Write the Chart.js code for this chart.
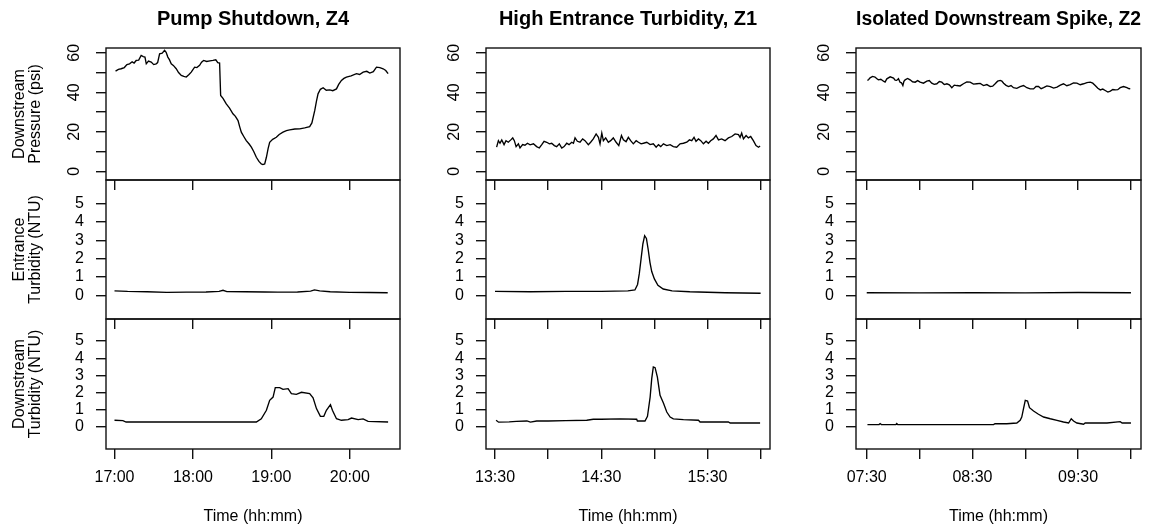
<!DOCTYPE html>
<html><head><meta charset="utf-8">
<script src="https://cdn.jsdelivr.net/npm/chart.js@4.4.1/dist/chart.umd.min.js"></script>
<style>
html,body{margin:0;padding:0;background:#fff;}
#wrap{position:relative;width:1154px;height:531px;overflow:hidden;background:#fff;}
#wrap canvas{position:absolute;}
</style></head><body><div id="wrap"></div>
<script>
// ---------- text ----------
const panelTitles = ['Pump Shutdown, Z4', 'High Entrance Turbidity, Z1', 'Isolated Downstream Spike, Z2'];
const rowTitles = [['Downstream', 'Pressure (psi)'], ['Entrance', 'Turbidity (NTU)'], ['Downstream', 'Turbidity (NTU)']];
const xAxisTitle = 'Time (hh:mm)';

// ---------- tick values ----------
const pressureTicks = [0, 10, 20, 30, 40, 50, 60];
const pressureTickLabels = [0, 20, 40, 60];
const turbTicks = [0, 1, 2, 3, 4, 5];
const z4TimeTicks = [1020, 1080, 1140, 1200];           // 17:00 .. 20:00
const z4TimeLabels = [1020, 1080, 1140, 1200];
const z1TimeTicks = [810, 840, 870, 900, 930, 960];     // 13:30 .. 16:00
const z1TimeLabels = [810, 870, 930];
const z2TimeTicks = [450, 480, 510, 540, 570, 600];     // 07:30 .. 10:00
const z2TimeLabels = [450, 510, 570];

// ---------- series (time = minutes after series start) ----------
const z4Start = 1020;
const z4PressT = [0.8,3,5.1,7.5,9.5,11.5,13.5,15,16.6,18.5,20.4,22,23.3,24.3,26,28.1,30,31.9,33,34.5,36.5,38.3,39.5,40.8,42,43.4,45,47.2,49,51.1,53,54.9,57,58.7,60,61.3,63,65.1,66.6,68.2,70.5,73,75.3,77.5,79,80.4,81.2,83,85.5,88,90.6,92.5,94.5,95.8,97,99,100.8,103,104.7,106.5,108.5,110.5,112.3,113.5,114.9,116.2,117.5,118.7,121,123.8,126,128.9,131.5,134,138,141.7,145.5,149.3,151,153.2,154.5,155.7,157.5,159.6,162,164.7,167,169.8,171.5,173.6,175.5,177.4,181,185.1,187.5,190.2,193,195.3,198,200.4,203,205.5,207.5,209.3];
const z4PressV = [50.7,51.6,51.9,52.5,54.0,54.4,55.4,54.8,56.1,56.3,58.6,58.0,57.8,54.4,55.8,55.3,54.0,54.4,55.0,59.5,59.8,61.2,60.2,57.8,56.5,54.4,53.6,51.9,50.0,48.5,48.0,47.7,49.0,50.2,51.5,52.7,52.5,53.6,55.2,56.1,55.6,55.9,56.1,56.4,55.0,54.8,38.4,36.9,34.1,32.0,29.1,27.8,25.7,22.5,19.8,17.5,15.5,13.8,12.2,10.0,7.1,5.0,3.7,3.4,3.7,7.1,11.5,14.7,16.2,17.2,18.6,19.8,20.6,21,21.4,21.5,22.0,22.6,24.5,30.8,35.5,39.2,41.5,42.3,41.0,41.2,40.8,41.7,44.0,46,47.0,47.7,48.3,49.4,49.0,50.2,50.6,49.7,50.4,52.7,52.5,51.9,51.0,49.4];
const z4EntT = [0,10,25,40,55,70,80,83,86,100,115,125,140,150,153,157,165,180,195,209];
const z4EntV = [0.25,0.22,0.2,0.17,0.18,0.19,0.22,0.28,0.21,0.2,0.19,0.18,0.19,0.24,0.3,0.25,0.2,0.17,0.16,0.15];
const z4DownT = [0,6.4,8.9,16.6,108.5,112.3,116.2,118.7,121.3,123,126.4,128.9,132.8,135.3,139.1,143,149.3,151.9,154.5,157.5,160.1,162.1,165.2,166.7,169.8,173.6,178.7,181.3,186.4,190.2,194,209.3];
const z4DownV = [0.39,0.37,0.29,0.29,0.29,0.48,0.97,1.55,1.74,2.29,2.29,2.19,2.23,1.94,1.9,2.02,1.94,1.7,1.07,0.62,0.62,0.97,1.3,0.97,0.48,0.39,0.43,0.52,0.43,0.47,0.33,0.29];

const z1Start = 810;
const z1PressT = [0.9,1.9,2.8,3.8,5.1,6.2,7.5,8.9,10,10.9,11.9,13.2,14.1,15.6,16.9,18.3,19.8,21.7,23.5,25,26.4,27.7,29.2,30.7,32,33.5,34.8,36.3,37.7,39,40.5,41.8,43.3,44.3,45.2,46.5,48,49.5,50.8,52.7,54,55.5,57.1,58.4,59.3,60.3,61.2,62.5,64,65.3,66.8,68.4,69.9,71.4,72.5,74,75.3,76.6,78.1,79.7,81,82.5,83.8,85.7,87.6,89.4,91,92.3,93.6,95.1,97,98.9,100.7,102.6,104.5,106.4,108.3,109.8,111.1,112.4,113.5,114.9,116.2,117.7,119.2,120.5,121.8,123.3,124.8,126.2,128,129.9,131.8,133.7,135.6,137.5,138.4,139.3,140.3,141.8,143.1,144.4,145.9,147.4,148.8,149.7];
const z1PressV = [12.2,15.5,14.2,15.9,13.5,15.5,14.7,15.9,16.9,15.5,12.5,13.9,11.8,13.5,13.2,14.2,13.4,13.9,12.5,11.8,13.5,15.2,14.7,13.9,14.2,13,12.5,13.9,11.8,12.5,14.2,13.5,14.7,14.2,16.9,15.2,14.7,16.4,15.5,13.5,14.7,16.4,18.9,17.2,13.9,19.3,15.5,16.9,14.7,15.5,16.9,14.7,13,18.1,15.9,15,17.2,15.5,13.9,15.5,14.7,13.9,14.2,14.7,13.5,13.9,12.2,13.5,12.5,13.9,13,13.5,12.5,12.2,13.9,14.2,14.7,15.9,15.5,17.2,15.2,16.4,15.5,13.9,15.2,14.2,15.5,16.4,18.1,15.9,16.4,15.5,16.9,17.6,18.9,18.6,17.2,19.3,16.4,18.1,16.9,17.6,15.5,13,12.2,12.8];
const z1EntT = [0,20,40,60,75,79,80.5,81.5,82.5,83.5,84.5,85.5,86.5,87.5,88.5,90,92,95,100,110,130,150];
const z1EntV = [0.22,0.2,0.22,0.22,0.25,0.3,0.6,1.2,2.0,2.8,3.25,3.1,2.5,1.8,1.3,0.9,0.55,0.35,0.25,0.2,0.15,0.12];
const z1DownT = [0.6,2,8,12,18,20,23.5,30,40,51.8,55.5,60,70.6,80,80.4,84.7,86.1,87.6,88.5,89.4,90.4,91.7,93.2,95.1,97,98.9,100.7,106.4,114.9,115.8,131.8,132.8,149.7];
const z1DownV = [0.39,0.28,0.3,0.33,0.35,0.28,0.35,0.35,0.37,0.39,0.45,0.45,0.47,0.45,0.35,0.35,0.62,1.74,2.81,3.49,3.45,2.9,1.84,1.4,0.87,0.58,0.47,0.43,0.39,0.29,0.29,0.23,0.23];

const z2Start = 450;
const z2PressT = [0.4,1.1,1.9,3.3,4.7,5.6,6.6,8,9.5,10.4,11.4,13.3,15.2,16.1,17,18,18.9,19.7,20.5,21.1,21.8,23.2,24.6,26,27.5,28.9,30.3,32.2,34.1,35.5,36.9,38.3,39.8,41.2,42.6,44,45.5,46.9,48.3,49.7,51.1,53,54.9,56.8,58.7,60.6,62.5,64.4,66.3,68.2,70.1,71.5,72.9,74.3,75.8,76.7,77.7,79.1,80.5,81.9,83.3,85.2,87.1,89,90.9,92.8,94.7,96.1,97.5,99,100.4,102.3,104.2,106.1,108,109.9,111.7,113.6,115.5,117.4,119.3,121.2,123.1,125,126.9,128.3,129.7,131.2,132.6,134,135.4,136.9,138.3,139.7,141.1,142.5,143.9,145.8,147.7,148.7,149.6];
const z2PressV = [46,46.5,47.3,48.0,47.7,47.0,46.3,46.6,45.6,45.2,46.8,47.8,47.2,46.1,46,46.9,45.1,44.8,43.4,45.5,46.3,47,46.3,45.3,45.1,45.9,45.1,44.6,45.6,45.9,44.6,44.0,44.3,45.4,45.1,43.9,44.3,43.8,42.3,43.6,43.4,43.2,44.3,45.2,45.1,44.1,44.3,44.5,43.4,43.9,42.9,43.1,44.3,45.6,46,45.7,44.6,43.5,42.9,43.4,42.3,42.0,42.9,43.4,42.3,41.7,41.7,42.9,42.9,41.8,42.3,43.2,42.9,42.1,42.6,43.6,44.3,43.3,43.9,44.7,44.6,43.8,44.3,44.9,45.1,44.6,43.4,42.0,41.2,41.6,40.9,40.1,40.6,41.4,41.2,41.3,42.3,42.9,42.3,41.9,41.7];
const z2EntT = [0,30,60,90,120,150];
const z2EntV = [0.15,0.14,0.15,0.14,0.16,0.15];
const z2DownT = [0.4,7,7.6,8.3,16.5,17,17.6,72,72.8,79.5,85.2,87.1,88,89,90,91.3,92.4,94.7,97.5,100.4,104.2,108,111.7,114.6,116.1,117.4,119.3,123.1,124,136.4,143.9,145,150];
const z2DownV = [0.14,0.14,0.2,0.14,0.14,0.2,0.14,0.14,0.19,0.19,0.23,0.39,0.58,1.07,1.55,1.51,1.12,0.93,0.74,0.58,0.48,0.39,0.29,0.23,0.48,0.35,0.23,0.16,0.23,0.23,0.31,0.23,0.23];

// ---------- layout (pixels) ----------
const colBox = [[106, 400], [486, 770], [856, 1141]];
const rowBox = [[48, 180], [180, 319], [319, 449]];
const colXRange = [[1013.5, 1238.4], [804.9, 965.3], [443.9, 605.7]];
const rowYRange = [[-4.4, 62.4], [-1.28, 6.28], [-1.28, 6.28]];

const columns = [
  {start: z4Start, ticks: z4TimeTicks, labels: z4TimeLabels, series: [[z4PressT, z4PressV], [z4EntT, z4EntV], [z4DownT, z4DownV]]},
  {start: z1Start, ticks: z1TimeTicks, labels: z1TimeLabels, series: [[z1PressT, z1PressV], [z1EntT, z1EntV], [z1DownT, z1DownV]]},
  {start: z2Start, ticks: z2TimeTicks, labels: z2TimeLabels, series: [[z2PressT, z2PressV], [z2EntT, z2EntV], [z2DownT, z2DownV]]}
];

Chart.defaults.font.family = "'Liberation Sans', Arial, sans-serif";
Chart.defaults.color = '#000';

function hhmm(m) {
  const h = Math.floor(m / 60), mm = Math.round(m - h * 60);
  return String(h).padStart(2, '0') + ':' + String(mm).padStart(2, '0');
}

const boxPlugin = {
  id: 'boxFrame',
  afterDatasetsDraw(chart) {
    const a = chart.chartArea, ctx = chart.ctx;
    ctx.save();
    ctx.strokeStyle = '#111';
    ctx.lineWidth = 1.4;
    ctx.strokeRect(a.left, a.top, a.right - a.left, a.bottom - a.top);
    ctx.restore();
  }
};

const wrap = document.getElementById('wrap');
const TOTAL_H = 531;

for (let c = 0; c < 3; c++) {
  for (let r = 0; r < 3; r++) {
    const col = columns[c];
    const yAxisW = c === 0 ? 106 : 70;
    const padRight = 4;
    const padTop = r === 0 ? 0 : 3;
    const boxW = colBox[c][1] - colBox[c][0];
    const left = colBox[c][0] - yAxisW;
    const top = r === 0 ? 0 : rowBox[r][0] - padTop;
    const xAxisH = r === 2 ? TOTAL_H - rowBox[r][1] : 12;
    const width = yAxisW + boxW + padRight;
    const height = rowBox[r][1] - top + xAxisH;

    const cv = document.createElement('canvas');
    cv.width = width; cv.height = height;
    cv.style.left = left + 'px'; cv.style.top = top + 'px';
    cv.style.width = width + 'px'; cv.style.height = height + 'px';
    wrap.appendChild(cv);

    const [tArr, vArr] = col.series[r];
    const pts = tArr.map((t, i) => ({x: col.start + t, y: vArr[i]}));
    const yTicks = r === 0 ? pressureTicks : turbTicks;

    new Chart(cv, {
      type: 'line',
      data: {datasets: [{data: pts, borderColor: '#000', borderWidth: 1.35, pointRadius: 0, tension: 0, fill: false}]},
      plugins: [boxPlugin],
      options: {
        responsive: false, animation: false, devicePixelRatio: 1,
        layout: {padding: {left: 0, right: padRight, top: padTop, bottom: 0}, autoPadding: false},
        plugins: {
          legend: {display: false}, tooltip: {enabled: false},
          title: {
            display: r === 0, text: panelTitles[c], fullSize: false, color: '#000',
            font: {size: 20, weight: 'bold', lineHeight: 1.2}, padding: {top: 7, bottom: 17}
          }
        },
        scales: {
          x: {
            type: 'linear', position: 'bottom', min: colXRange[c][0], max: colXRange[c][1],
            afterBuildTicks: s => { s.ticks = col.ticks.map(v => ({value: v})); },
            afterFit: s => { s.height = xAxisH; s.paddingLeft = 0; s.paddingRight = 0; s.paddingTop = 0; s.paddingBottom = 0; },
            border: {display: false},
            grid: {drawOnChartArea: false, drawTicks: true, tickLength: 10, color: '#111', lineWidth: 1.4},
            ticks: {
              display: r === 2, autoSkip: false, maxRotation: 0, padding: 9, color: '#000',
              font: {size: 16, lineHeight: 1.2},
              callback: v => col.labels.includes(v) ? hhmm(v) : ''
            },
            title: {display: r === 2, text: xAxisTitle, color: '#000', font: {size: 16, lineHeight: 1.2}, padding: {top: 0, bottom: 4.4}}
          },
          y: {
            type: 'linear', position: 'left', min: rowYRange[r][0], max: rowYRange[r][1],
            afterBuildTicks: s => { s.ticks = yTicks.map(v => ({value: v})); },
            afterFit: s => { s.width = yAxisW; s.paddingTop = 0; s.paddingBottom = 0; s.paddingLeft = 0; s.paddingRight = 0; },
            border: {display: false},
            grid: {drawOnChartArea: false, drawTicks: true, tickLength: 10, color: '#111', lineWidth: 1.4},
            ticks: r === 0 ? {
              minRotation: 90, maxRotation: 90, crossAlign: 'center', padding: 13, color: '#000',
              font: {size: 16},
              callback: v => pressureTickLabels.includes(v) ? String(v) : ''
            } : {
              padding: 12, color: '#000', font: {size: 16},
              callback: v => String(v)
            },
            title: {
              display: c === 0, text: rowTitles[r], color: '#000',
              font: {size: 16, lineHeight: 1.03}, padding: {top: 11.3, bottom: 0}
            }
          }
        }
      }
    });
  }
}
</script>
</body></html>
